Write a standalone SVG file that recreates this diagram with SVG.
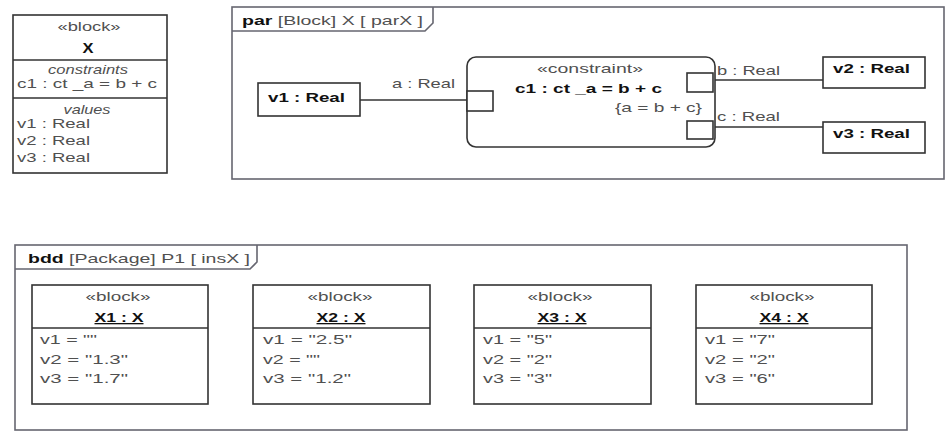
<svg xmlns="http://www.w3.org/2000/svg" width="948" height="445" viewBox="0 0 948 445">
<style>
text{font-family:"Liberation Sans",Arial,sans-serif;font-size:13px;fill:#505050}
.b{font-weight:bold;fill:#111}
.i{font-style:italic}
.c{text-anchor:middle}
.u{text-decoration:underline}
.box{fill:#fff;stroke:#333;stroke-width:1.6}
.frame{fill:#fff;stroke:#666670;stroke-width:1.6}
.ln{stroke:#333;stroke-width:1.6;fill:none}
</style>
<rect width="948" height="445" fill="#fff"/>
<g id="blockX">
<rect class="box" x="13" y="15" width="154" height="158"/>
<line class="ln" x1="13" y1="60" x2="167" y2="60"/>
<line class="ln" x1="13" y1="98" x2="167" y2="98"/>
<text class="c" x="89" y="31" textLength="63" lengthAdjust="spacingAndGlyphs">«block»</text>
<text class="c b" x="88" y="53" style="font-size:14px" textLength="11" lengthAdjust="spacingAndGlyphs">X</text>
<text class="c i" x="88" y="74" textLength="80" lengthAdjust="spacingAndGlyphs">constraints</text>
<text x="17" y="88" textLength="140" lengthAdjust="spacingAndGlyphs">c1 : ct _a = b + c</text>
<text class="c i" x="87" y="114" textLength="47" lengthAdjust="spacingAndGlyphs">values</text>
<text x="17" y="128" textLength="73" lengthAdjust="spacingAndGlyphs">v1 : Real</text>
<text x="17" y="145" textLength="73" lengthAdjust="spacingAndGlyphs">v2 : Real</text>
<text x="17" y="162" textLength="73" lengthAdjust="spacingAndGlyphs">v3 : Real</text>
</g>
<g id="parFrame">
<rect class="frame" x="232" y="7" width="712" height="172"/>
<path class="frame" d="M232 31 H425 L433 23 V7" style="fill:none"/>
<text x="242" y="25" textLength="181" lengthAdjust="spacingAndGlyphs"><tspan class="b">par</tspan> [Block] X [ parX ]</text>
</g>
<g id="bddFrame">
<rect class="frame" x="15" y="245" width="892" height="185"/>
<path class="frame" d="M15 269 H250 L257 262 V245" style="fill:none"/>
<text x="28" y="263" textLength="222" lengthAdjust="spacingAndGlyphs"><tspan class="b">bdd</tspan> [Package] P1 [ insX ]</text>
</g>
<g id="connectors">
<line class="ln" x1="360" y1="100" x2="468" y2="100"/>
<line class="ln" x1="713" y1="80" x2="824" y2="80"/>
<line class="ln" x1="713" y1="127" x2="824" y2="127"/>
<text x="392" y="88" textLength="63" lengthAdjust="spacingAndGlyphs">a : Real</text>
<text x="717" y="75" textLength="63" lengthAdjust="spacingAndGlyphs">b : Real</text>
<text x="717" y="121" textLength="63" lengthAdjust="spacingAndGlyphs">c : Real</text>
</g>
<g id="v1">
<rect class="box" x="258" y="83" width="102" height="33"/>
<text class="b" x="268" y="102" textLength="77" lengthAdjust="spacingAndGlyphs">v1 : Real</text>
</g>
<g id="c1">
<rect class="box" x="467" y="57" width="248" height="90" rx="9"/>
<text class="c" x="590" y="73" textLength="106" lengthAdjust="spacingAndGlyphs">«constraint»</text>
<text class="b" x="515" y="93" textLength="147" lengthAdjust="spacingAndGlyphs">c1 : ct _a = b + c</text>
<text x="615" y="112" textLength="87" lengthAdjust="spacingAndGlyphs">{a = b + c}</text>
<rect class="box" x="467" y="91" width="26" height="20"/>
<rect class="box" x="687" y="73" width="26" height="19"/>
<rect class="box" x="687" y="121" width="26" height="18"/>
</g>
<g id="v2">
<rect class="box" x="823" y="57" width="102" height="31"/>
<text class="b" x="833" y="73" textLength="77" lengthAdjust="spacingAndGlyphs">v2 : Real</text>
</g>
<g id="v3">
<rect class="box" x="823" y="122" width="102" height="31"/>
<text class="b" x="833" y="138" textLength="77" lengthAdjust="spacingAndGlyphs">v3 : Real</text>
</g>
<g id="X1">
<rect class="box" x="32" y="285" width="176" height="119"/>
<line class="ln" x1="32" y1="328" x2="208" y2="328"/>
<text class="c" x="118" y="301" textLength="65" lengthAdjust="spacingAndGlyphs">«block»</text>
<text class="c b u" x="119" y="322" textLength="49" lengthAdjust="spacingAndGlyphs">X1 : X</text>
<text x="40" y="344" textLength="57" lengthAdjust="spacingAndGlyphs">v1 = ""</text>
<text x="40" y="364" textLength="88" lengthAdjust="spacingAndGlyphs">v2 = "1.3"</text>
<text x="40" y="383" textLength="88" lengthAdjust="spacingAndGlyphs">v3 = "1.7"</text>
</g>
<g id="X2">
<rect class="box" x="253" y="285" width="177" height="119"/>
<line class="ln" x1="253" y1="328" x2="430" y2="328"/>
<text class="c" x="340" y="301" textLength="65" lengthAdjust="spacingAndGlyphs">«block»</text>
<text class="c b u" x="341" y="322" textLength="49" lengthAdjust="spacingAndGlyphs">X2 : X</text>
<text x="263" y="344" textLength="89" lengthAdjust="spacingAndGlyphs">v1 = "2.5"</text>
<text x="263" y="364" textLength="57" lengthAdjust="spacingAndGlyphs">v2 = ""</text>
<text x="263" y="383" textLength="88" lengthAdjust="spacingAndGlyphs">v3 = "1.2"</text>
</g>
<g id="X3">
<rect class="box" x="474" y="285" width="177" height="119"/>
<line class="ln" x1="474" y1="328" x2="651" y2="328"/>
<text class="c" x="560" y="301" textLength="65" lengthAdjust="spacingAndGlyphs">«block»</text>
<text class="c b u" x="562" y="322" textLength="49" lengthAdjust="spacingAndGlyphs">X3 : X</text>
<text x="483" y="344" textLength="69" lengthAdjust="spacingAndGlyphs">v1 = "5"</text>
<text x="483" y="364" textLength="69" lengthAdjust="spacingAndGlyphs">v2 = "2"</text>
<text x="483" y="383" textLength="69" lengthAdjust="spacingAndGlyphs">v3 = "3"</text>
</g>
<g id="X4">
<rect class="box" x="696" y="285" width="176" height="119"/>
<line class="ln" x1="696" y1="328" x2="872" y2="328"/>
<text class="c" x="782" y="301" textLength="65" lengthAdjust="spacingAndGlyphs">«block»</text>
<text class="c b u" x="784" y="322" textLength="49" lengthAdjust="spacingAndGlyphs">X4 : X</text>
<text x="705" y="344" textLength="70" lengthAdjust="spacingAndGlyphs">v1 = "7"</text>
<text x="705" y="364" textLength="70" lengthAdjust="spacingAndGlyphs">v2 = "2"</text>
<text x="705" y="383" textLength="70" lengthAdjust="spacingAndGlyphs">v3 = "6"</text>
</g>
</svg>
